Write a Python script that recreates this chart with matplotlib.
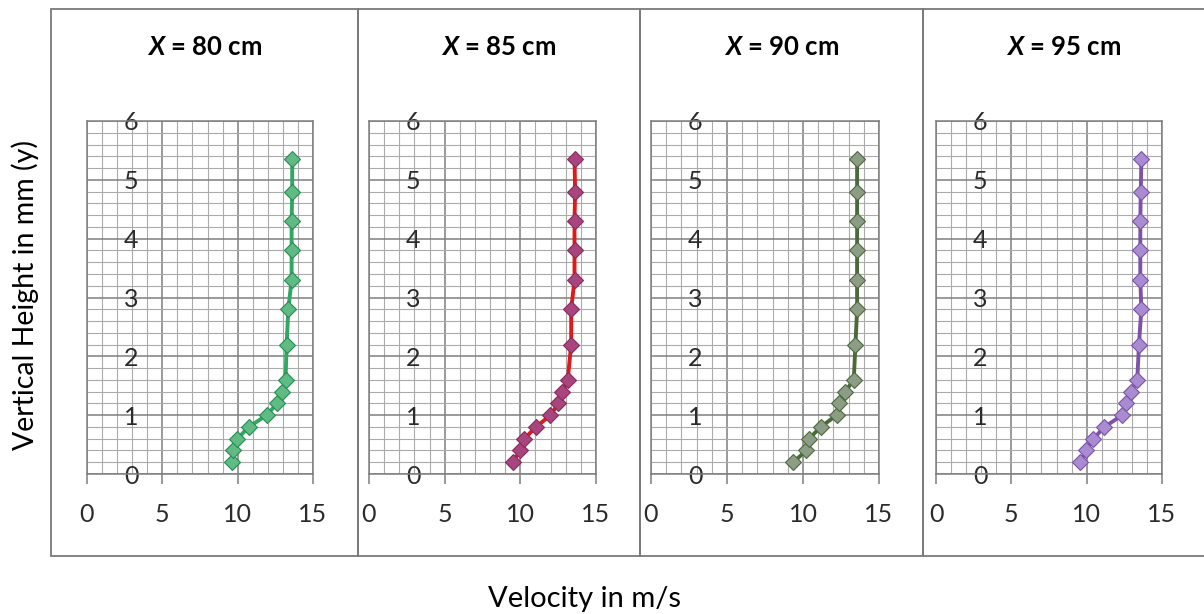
import numpy as np
import matplotlib.pyplot as plt
from matplotlib.patches import Rectangle
from matplotlib.ticker import MultipleLocator

plt.rcParams['font.family'] = ['Lato', 'DejaVu Sans']
plt.rcParams['mathtext.fontset'] = 'custom'
plt.rcParams['mathtext.it'] = 'Lato:italic:bold'

# heights in mm (same for every station)
height = [0.2, 0.4, 0.6, 0.8, 1.0, 1.2, 1.4, 1.6, 2.2, 2.8, 3.3, 3.8, 4.3, 4.8, 5.35]

# velocity in m/s
vel_80 = [9.60, 9.67, 9.98, 10.75, 11.92, 12.63, 12.91, 13.18, 13.25, 13.36, 13.58, 13.58, 13.58, 13.62, 13.62]
vel_85 = [9.49, 10.00, 10.26, 11.04, 11.99, 12.52, 12.76, 13.13, 13.36, 13.36, 13.58, 13.58, 13.58, 13.62, 13.58]
vel_90 = [9.36, 10.22, 10.40, 11.17, 12.21, 12.35, 12.77, 13.34, 13.45, 13.56, 13.56, 13.56, 13.56, 13.56, 13.56]
vel_95 = [9.58, 9.96, 10.45, 11.18, 12.36, 12.58, 12.96, 13.36, 13.47, 13.63, 13.56, 13.56, 13.56, 13.59, 13.63]

stations = ['80', '85', '90', '95']
velocities = [vel_80, vel_85, vel_90, vel_95]
line_colors = ['#2fa862', '#e01a1a', '#4b6a3c', '#7d52a8']
marker_colors = ['#5dbb83', '#a8457e', '#8d9c84', '#a88bd0']
marker_edges = ['#2a8a52', '#8a2a5a', '#4b6a3c', '#7d52a8']

W, H = 1204, 614
fig = plt.figure(figsize=(W / 100, H / 100), dpi=100)

# pixel layout of the four panels
plot_left = [87, 369, 651, 936]
plot_right = [313, 596, 879, 1162]
box_left = [51, 358, 640, 923]
box_right = [358, 640, 923, 1215]
plot_top, plot_bottom = 121, 474
box_top, box_bottom = 9, 556

for i in range(4):
    # panel frame
    fig.patches.append(Rectangle((box_left[i] / W, 1 - box_bottom / H),
                                 (box_right[i] - box_left[i]) / W,
                                 (box_bottom - box_top) / H,
                                 transform=fig.transFigure, fill=False,
                                 edgecolor='#7a7a7a', linewidth=1.3, zorder=0))

    ax = fig.add_axes([plot_left[i] / W, 1 - plot_bottom / H,
                       (plot_right[i] - plot_left[i]) / W,
                       (plot_bottom - plot_top) / H])
    ax.plot(velocities[i], height, color=line_colors[i], linewidth=2.8,
            marker='D', markersize=8.5, markerfacecolor=marker_colors[i],
            markeredgecolor=marker_edges[i], markeredgewidth=0.8, zorder=3)

    ax.set_xlim(0, 15)
    ax.set_ylim(0, 6)
    ax.xaxis.set_major_locator(MultipleLocator(5))
    ax.xaxis.set_minor_locator(MultipleLocator(1))
    ax.yaxis.set_major_locator(MultipleLocator(1))
    ax.yaxis.set_minor_locator(MultipleLocator(0.2))
    ax.grid(which='major', color='#7f7f7f', linewidth=1.1)
    ax.grid(which='minor', color='#ababab', linewidth=0.8)
    ax.set_axisbelow(True)
    for s in ax.spines.values():
        s.set_color('#7f7f7f')
        s.set_linewidth(1.1)

    ax.tick_params(axis='x', which='major', length=7, width=1.1, color='#7f7f7f',
                   pad=14, labelsize=18, labelcolor='#2b2b2b')
    ax.tick_params(axis='y', which='major', length=0, pad=-37,
                   labelsize=18, labelcolor='#2b2b2b')
    ax.tick_params(which='minor', length=0)

    fig.text((box_left[i] + min(box_right[i], W)) / 2 / W, 1 - 47 / H,
             r'$X$ = ' + stations[i] + ' cm', ha='center', va='center',
             fontsize=18.5, fontweight='bold')

fig.text(25 / W, 1 - 295 / H, 'Vertical Height in mm (y)', rotation=90,
         ha='center', va='center', fontsize=20.5)
fig.text(584 / W, 1 - 599 / H, 'Velocity in m/s', ha='center', va='center',
         fontsize=21)

fig.savefig('out.png', dpi=100)
